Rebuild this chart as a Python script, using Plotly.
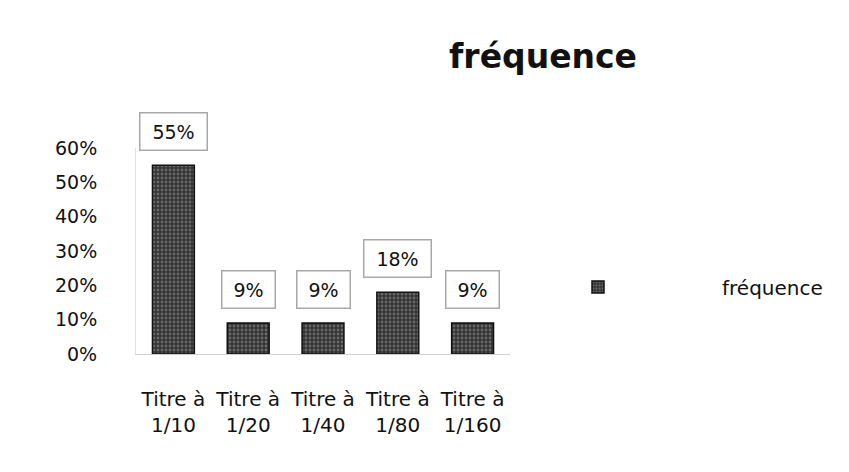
import plotly.graph_objects as go

categories = ["Titre à<br>1/10", "Titre à<br>1/20", "Titre à<br>1/40", "Titre à<br>1/80", "Titre à<br>1/160"]
values = [0.55, 0.09, 0.09, 0.18, 0.09]
labels = ["55%", "9%", "9%", "18%", "9%"]
tick_vals = [0, 0.1, 0.2, 0.3, 0.4, 0.5, 0.6]
tick_text = ["0%", "10%", "20%", "30%", "40%", "50%", "60%"]
series_name = "fréquence"

FONT = "DejaVu Sans"

fig = go.Figure()
fig.add_trace(go.Bar(
    x=categories, y=values, name=series_name,
    marker=dict(color="#333333",
                line=dict(color="#111111", width=1.5),
                pattern=dict(shape=".", fgcolor="#a0a0a0", size=4, solidity=0.4)),
    showlegend=True,
))

for c, v, t in zip(categories, values, labels):
    fig.add_annotation(
        x=c, y=v, text=t, showarrow=False, yanchor="bottom", yshift=14,
        font=dict(family=FONT, size=19, color="#111111"),
        bgcolor="white", bordercolor="#a8a8a8", borderwidth=1.5,
        width=64 if len(t) > 2 else 50, height=34,
    )

fig.update_layout(
    width=849, height=472,
    margin=dict(l=136, r=339, t=148, b=118, autoexpand=False),
    paper_bgcolor="white", plot_bgcolor="white",
    font=dict(family=FONT, size=19, color="#111111"),
    bargap=0.44,
    title=dict(text="<b>fréquence</b>", font=dict(family=FONT, size=33, color="#111111"),
               xref="container", x=543/849, xanchor="center",
               yref="container", y=1-56/472, yanchor="middle"),
    legend=dict(xref="container", x=474/849, xanchor="left",
                yref="container", y=1-287/472, yanchor="middle",
                itemwidth=238, font=dict(family=FONT, size=20, color="#111111"),
                bgcolor="rgba(0,0,0,0)"),
    showlegend=True,
)
fig.update_xaxes(showgrid=False, showline=True, linecolor="#d0d0d0", linewidth=1,
                 ticks="", ticklabelstandoff=27, tickfont=dict(family=FONT, size=20))
fig.update_yaxes(range=[0, 0.6], tickvals=tick_vals, ticktext=tick_text,
                 showgrid=False, zeroline=False, showline=True, linecolor="#e0e0e0",
                 ticks="", ticklabelstandoff=34, tickfont=dict(family=FONT, size=19))

fig.write_html("out.html")
